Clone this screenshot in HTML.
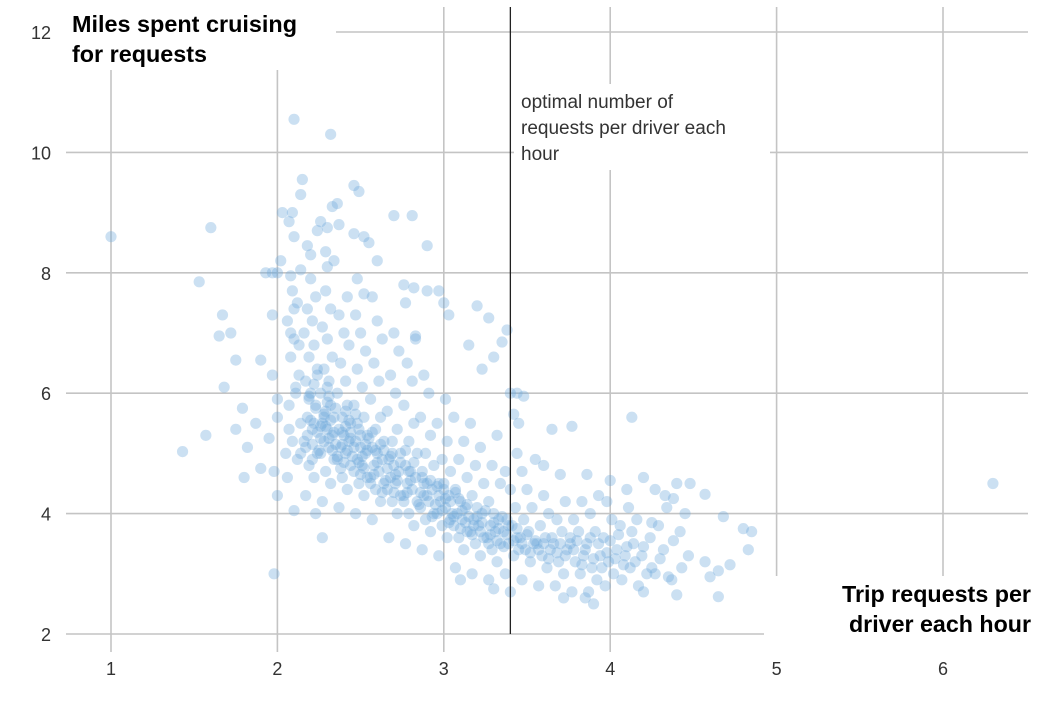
<!DOCTYPE html>
<html><head><meta charset="utf-8"><style>
html,body{margin:0;padding:0;background:#fff;}
svg{display:block;}
</style></head><body>
<svg id="chart" width="1062" height="703" xmlns="http://www.w3.org/2000/svg">
<g id="grid"></g>
<g id="dots"></g>
<rect x="64" y="0" width="272" height="70" fill="#fff"/>
<rect x="514" y="84" width="256" height="86" fill="#fff"/>
<rect x="764" y="576" width="298" height="127" fill="#fff"/>
<g id="ref"></g>
<g id="ticks"></g>
<text x="72" y="32" font-family="'Liberation Sans Narrow','Liberation Sans',sans-serif" font-weight="bold" font-size="23" fill="#000"><tspan x="72" y="32" textLength="225" lengthAdjust="spacingAndGlyphs">Miles spent cruising</tspan><tspan x="72" y="62" textLength="135" lengthAdjust="spacingAndGlyphs">for requests</tspan></text>
<text font-family="'Liberation Sans',sans-serif" font-size="19" fill="#333"><tspan x="521" y="108">optimal number of</tspan><tspan x="521" y="134">requests per driver each</tspan><tspan x="521" y="160">hour</tspan></text>
<text text-anchor="end" font-family="'Liberation Sans Narrow','Liberation Sans',sans-serif" font-weight="bold" font-size="23" fill="#000"><tspan x="1031" y="602" textLength="189" lengthAdjust="spacingAndGlyphs">Trip requests per</tspan><tspan x="1031" y="632" textLength="182" lengthAdjust="spacingAndGlyphs">driver each hour</tspan></text>
</svg>
<script>
const xTicks=[1,2,3,4,5,6];
const yTicks=[2,4,6,8,10,12];
const optimalRequests=3.4;
const points=[
[1.0,8.6],[1.6,8.75],[1.53,7.85],[1.43,5.03],[1.57,5.3],[1.65,6.95],[1.67,7.3],[1.72,7.0],[1.68,6.1],[1.75,5.4],[1.79,5.75],[1.8,4.6],[1.82,5.1],[1.87,5.5],[1.9,4.75],[1.98,3.0],
[2.1,10.55],[2.32,10.3],[2.15,9.55],[2.14,9.3],[2.46,9.45],[2.49,9.35],[2.36,9.15],[2.33,9.1],[2.03,9.0],[2.09,9.0],[2.07,8.85],[2.26,8.85],[2.3,8.75],[2.37,8.8],[2.7,8.95],[2.81,8.95],[2.9,8.45],[2.46,8.65],[2.52,8.6],[2.55,8.5],[2.24,8.7],[2.18,8.45],[2.2,8.3],[2.29,8.35],[2.34,8.2],[2.3,8.1],[2.6,8.2],[2.48,7.9],[2.1,8.6],[2.02,8.2],[2.0,8.0],[1.93,8.0],[1.97,8.0],[2.14,8.05],[2.08,7.95],
[3.0,7.5],[3.03,7.3],[2.9,7.7],[2.97,7.7],[2.77,7.5],[2.82,7.75],[2.76,7.8],[3.2,7.45],[3.27,7.25],[3.38,7.05],[3.35,6.85],[3.3,6.6],[3.23,6.4],[3.15,6.8],[2.83,6.95],[3.4,6.0],[3.44,6.0],[3.48,5.95],[3.42,5.65],[3.45,5.5],[3.65,5.4],[3.77,5.45],[4.13,5.6],
[3.55,4.9],[3.6,4.8],[3.7,4.65],[3.86,4.65],[4.0,4.55],[4.1,4.4],[4.2,4.6],[4.27,4.4],[4.33,4.3],[4.4,4.5],[4.48,4.5],[4.38,4.25],[4.57,4.32],[4.68,3.95],[4.8,3.75],[4.85,3.7],[4.83,3.4],[4.57,3.2],[4.6,2.95],[4.65,3.05],[4.72,3.15],[4.65,2.62],[4.4,2.65],[4.35,2.95],[4.43,3.1],[4.25,3.1],[4.2,2.7],[3.9,2.5],[3.85,2.6],[3.72,2.6],[3.4,2.7],[3.3,2.75],[3.1,2.9],[6.3,4.5],
[2.27,3.6],[2.1,4.05],[2.23,4.0],[2.0,4.3],[1.98,4.7],[2.05,5.0],[1.95,5.25],[2.0,5.6],[2.0,5.9],[1.97,6.3],[1.9,6.55],[1.75,6.55],[1.97,7.3],
[2.06,4.6],[2.12,4.9],[2.09,5.2],[2.14,5.5],[2.07,5.8],[2.11,6.0],[2.13,6.3],[2.08,6.6],[2.1,6.9],[2.06,7.2],[2.12,7.5],[2.09,7.7],[2.14,5.0],[2.07,5.4],[2.11,6.1],[2.13,6.8],[2.08,7.0],[2.1,7.4],
[2.17,4.3],[2.22,4.6],[2.19,4.8],[2.24,5.0],[2.16,5.2],[2.21,5.4],[2.18,5.6],[2.23,5.8],[2.2,6.0],[2.17,6.2],[2.24,6.4],[2.19,6.6],[2.22,6.8],[2.16,7.0],[2.21,7.2],[2.18,7.4],[2.23,7.6],[2.2,7.9],[2.17,5.1],[2.22,5.5],[2.19,5.9],[2.24,6.3],[2.21,4.9],[2.18,5.3],
[2.27,4.2],[2.32,4.5],[2.29,4.7],[2.34,4.9],[2.26,5.0],[2.31,5.1],[2.28,5.2],[2.33,5.3],[2.3,5.4],[2.27,5.5],[2.34,5.6],[2.29,5.7],[2.32,5.8],[2.26,6.0],[2.31,6.2],[2.28,6.4],[2.33,6.6],[2.3,6.9],[2.27,7.1],[2.32,7.4],[2.29,7.7],[2.34,5.35],[2.26,5.45],[2.31,5.25],[2.28,5.6],
[2.37,4.1],[2.42,4.4],[2.39,4.6],[2.44,4.8],[2.36,4.9],[2.41,5.0],[2.38,5.1],[2.43,5.2],[2.4,5.3],[2.37,5.4],[2.44,5.5],[2.39,5.6],[2.42,5.8],[2.36,6.0],[2.41,6.2],[2.38,6.5],[2.43,6.8],[2.4,7.0],[2.37,7.3],[2.42,7.6],[2.39,5.15],[2.44,5.25],[2.36,4.95],[2.41,5.45],
[2.47,4.0],[2.52,4.3],[2.49,4.5],[2.54,4.6],[2.46,4.7],[2.51,4.8],[2.48,4.9],[2.53,5.0],[2.5,5.1],[2.47,5.2],[2.54,5.3],[2.49,5.4],[2.52,5.6],[2.46,5.8],[2.51,6.1],[2.48,6.4],[2.53,6.7],[2.5,7.0],[2.47,7.3],[2.52,7.65],[2.49,4.85],[2.54,5.05],
[2.57,3.9],[2.62,4.2],[2.59,4.4],[2.64,4.5],[2.56,4.6],[2.61,4.7],[2.58,4.8],[2.63,4.9],[2.6,5.0],[2.57,5.1],[2.64,5.2],[2.59,5.4],[2.62,5.6],[2.56,5.9],[2.61,6.2],[2.58,6.5],[2.63,6.9],[2.6,7.2],[2.57,7.6],
[2.67,3.6],[2.72,4.0],[2.69,4.2],[2.74,4.3],[2.66,4.4],[2.71,4.5],[2.68,4.6],[2.73,4.7],[2.7,4.8],[2.67,4.9],[2.74,5.0],[2.69,5.2],[2.72,5.4],[2.66,5.7],[2.71,6.0],[2.68,6.3],[2.73,6.7],[2.7,7.0],
[2.77,3.5],[2.82,3.8],[2.79,4.0],[2.84,4.2],[2.76,4.3],[2.81,4.4],[2.78,4.5],[2.83,4.6],[2.8,4.7],[2.77,4.8],[2.84,5.0],[2.79,5.2],[2.82,5.5],[2.76,5.8],[2.81,6.2],[2.78,6.5],[2.83,6.9],
[2.87,3.4],[2.92,3.7],[2.89,3.9],[2.94,4.0],[2.86,4.1],[2.91,4.2],[2.88,4.3],[2.93,4.4],[2.9,4.5],[2.87,4.6],[2.94,4.8],[2.89,5.0],[2.92,5.3],[2.86,5.6],[2.91,6.0],[2.88,6.3],
[2.97,3.3],[3.02,3.6],[2.99,3.8],[3.04,3.9],[2.96,4.0],[3.01,4.1],[2.98,4.2],[3.03,4.3],[3.0,4.4],[2.97,4.5],[3.04,4.7],[2.99,4.9],[3.02,5.2],[2.96,5.5],[3.01,5.9],
[3.07,3.1],[3.12,3.4],[3.09,3.6],[3.14,3.7],[3.06,3.8],[3.11,3.9],[3.08,4.0],[3.13,4.1],[3.1,4.2],[3.07,4.4],[3.14,4.6],[3.09,4.9],[3.12,5.2],[3.06,5.6],
[3.17,3.0],[3.22,3.3],[3.19,3.5],[3.24,3.6],[3.16,3.7],[3.21,3.8],[3.18,3.9],[3.23,4.0],[3.2,4.1],[3.17,4.3],[3.24,4.5],[3.19,4.8],[3.22,5.1],[3.16,5.5],
[3.27,2.9],[3.32,3.2],[3.29,3.4],[3.34,3.5],[3.26,3.6],[3.31,3.7],[3.28,3.8],[3.33,3.9],[3.3,4.0],[3.27,4.2],[3.34,4.5],[3.29,4.8],[3.32,5.3],
[3.37,3.0],[3.42,3.3],[3.39,3.5],[3.44,3.6],[3.36,3.7],[3.41,3.8],[3.38,3.9],[3.43,4.1],[3.4,4.4],[3.37,4.7],[3.44,5.0],
[3.47,2.9],[3.52,3.2],[3.49,3.4],[3.54,3.5],[3.46,3.6],[3.51,3.7],[3.48,3.9],[3.53,4.1],[3.5,4.4],[3.47,4.7],
[3.57,2.8],[3.62,3.1],[3.59,3.3],[3.64,3.4],[3.56,3.5],[3.61,3.6],[3.58,3.8],[3.63,4.0],[3.6,4.3],
[3.67,2.8],[3.72,3.0],[3.69,3.2],[3.74,3.4],[3.66,3.5],[3.71,3.7],[3.68,3.9],[3.73,4.2],
[3.77,2.7],[3.82,3.0],[3.79,3.2],[3.84,3.3],[3.76,3.5],[3.81,3.7],[3.78,3.9],[3.83,4.2],
[3.87,2.7],[3.92,2.9],[3.89,3.1],[3.94,3.3],[3.86,3.5],[3.91,3.7],[3.88,4.0],[3.93,4.3],
[3.97,2.8],[4.02,3.0],[3.99,3.2],[4.04,3.4],[3.96,3.6],[4.01,3.9],[3.98,4.2],
[4.07,2.9],[4.12,3.1],[4.09,3.3],[4.14,3.5],[4.06,3.8],[4.11,4.1],
[4.17,2.8],[4.22,3.0],[4.19,3.3],[4.24,3.6],[4.16,3.9],
[4.27,3.0],[4.32,3.4],[4.29,3.8],[4.34,4.1],
[4.37,2.9],[4.47,3.3],[4.42,3.7],[4.45,4.0],
[2.21,5.15],[2.24,5.35],[2.2,5.55],[2.23,5.75],[2.19,5.95],[2.22,6.15],[2.25,5.05],[2.26,5.25],[2.29,5.45],[2.28,5.65],[2.3,5.85],[2.33,5.05],[2.35,5.15],[2.32,5.55],[2.35,5.75],[2.31,5.95],[2.3,6.1],
[2.38,4.75],[2.4,4.85],[2.42,5.05],[2.39,5.35],[2.43,5.55],[2.41,5.7],[2.45,4.95],[2.46,5.1],[2.44,5.35],[2.48,5.5],[2.47,5.65],[2.5,4.65],[2.52,4.75],[2.51,4.95],[2.53,5.15],[2.55,5.25],[2.5,5.3],[2.56,4.5],[2.58,4.65],[2.6,4.85],[2.59,5.05],[2.62,5.15],[2.57,5.35],
[2.63,4.35],[2.65,4.55],[2.66,4.75],[2.68,4.95],[2.64,5.05],[2.7,4.35],[2.72,4.55],[2.71,4.65],[2.74,4.85],[2.69,5.0],[2.76,4.2],[2.78,4.35],[2.8,4.55],[2.79,4.7],[2.82,4.85],[2.77,5.05],[2.85,4.15],[2.86,4.35],[2.88,4.5],[2.87,4.7],[2.9,4.3],[2.92,4.55],
[2.93,3.95],[2.95,4.15],[2.97,4.3],[2.96,4.45],[2.99,4.05],[3.01,4.25],[3.0,4.5],[3.03,3.85],[3.05,4.0],[3.04,4.2],[3.07,4.35],[3.06,3.95],[3.1,3.75],[3.11,4.05],[3.09,4.25],[3.13,3.85],[3.15,3.95],[3.14,4.15],[3.17,3.65],[3.18,3.8],[3.2,3.95],[3.22,3.7],[3.23,3.85],[3.25,4.05],
[3.27,3.5],[3.28,3.65],[3.3,3.85],[3.32,3.55],[3.33,3.75],[3.35,3.95],[3.36,3.45],[3.38,3.65],[3.39,3.8],[3.42,3.55],[3.44,3.75],[3.45,3.4],[3.47,3.5],[3.5,3.65],[3.52,3.35],[3.55,3.55],[3.57,3.4],[3.6,3.5],[3.63,3.25],[3.65,3.6],[3.68,3.35],[3.7,3.5],[3.73,3.3],[3.76,3.6],[3.78,3.4],[3.8,3.55],[3.83,3.15],[3.85,3.4],[3.88,3.6],[3.9,3.25],[3.93,3.5],[3.95,3.1],[3.98,3.35],[4.0,3.55],[4.03,3.25],[4.05,3.65],[4.08,3.15],[4.1,3.45],[4.13,3.7],[4.15,3.2],[4.2,3.45],[4.25,3.85],[4.3,3.25],[4.38,3.55]
];
const NS='http://www.w3.org/2000/svg';
const xScale=v=>111+(v-1)*166.4;
const yScale=v=>634-(v-2)*60.2;
const grid=document.getElementById('grid');
function mk(tag,attrs,parent){const e=document.createElementNS(NS,tag);for(const k in attrs)e.setAttribute(k,attrs[k]);parent.appendChild(e);return e;}
yTicks.forEach(t=>{
  const l=mk('line',{x1:66,x2:t===2?764:1028,y1:yScale(t),y2:yScale(t),stroke:'#c4c4c4','stroke-width':1.6},grid);
  
  
});
xTicks.forEach(t=>{
  const l=mk('line',{x1:xScale(t),x2:xScale(t),y1:7,y2:652,stroke:'#c4c4c4','stroke-width':1.6},grid);
  
  
});
const dots=document.getElementById('dots');
points.forEach(p=>{
  const c=mk('circle',{cx:xScale(p[0]),cy:yScale(p[1]),r:5.6,fill:'rgb(111,168,220)','fill-opacity':0.36},dots);
  
  
});
const ref=document.getElementById('ref');
const rl=mk('line',{x1:xScale(optimalRequests),x2:xScale(optimalRequests),y1:7,y2:yScale(2),stroke:'#222','stroke-width':1.3},ref);


const ticks=document.getElementById('ticks');
yTicks.forEach(t=>{
  const tx=mk('text',{x:51,y:yScale(t)+7,'text-anchor':'end','font-family':"'Liberation Sans',sans-serif",'font-size':18,fill:'#333'},ticks);
  tx.textContent=t;
  
  
});
xTicks.forEach(t=>{
  const tx=mk('text',{x:xScale(t),y:675,'text-anchor':'middle','font-family':"'Liberation Sans',sans-serif",'font-size':18,fill:'#333'},ticks);
  tx.textContent=t;
  
  
});
</script>
</body></html>
